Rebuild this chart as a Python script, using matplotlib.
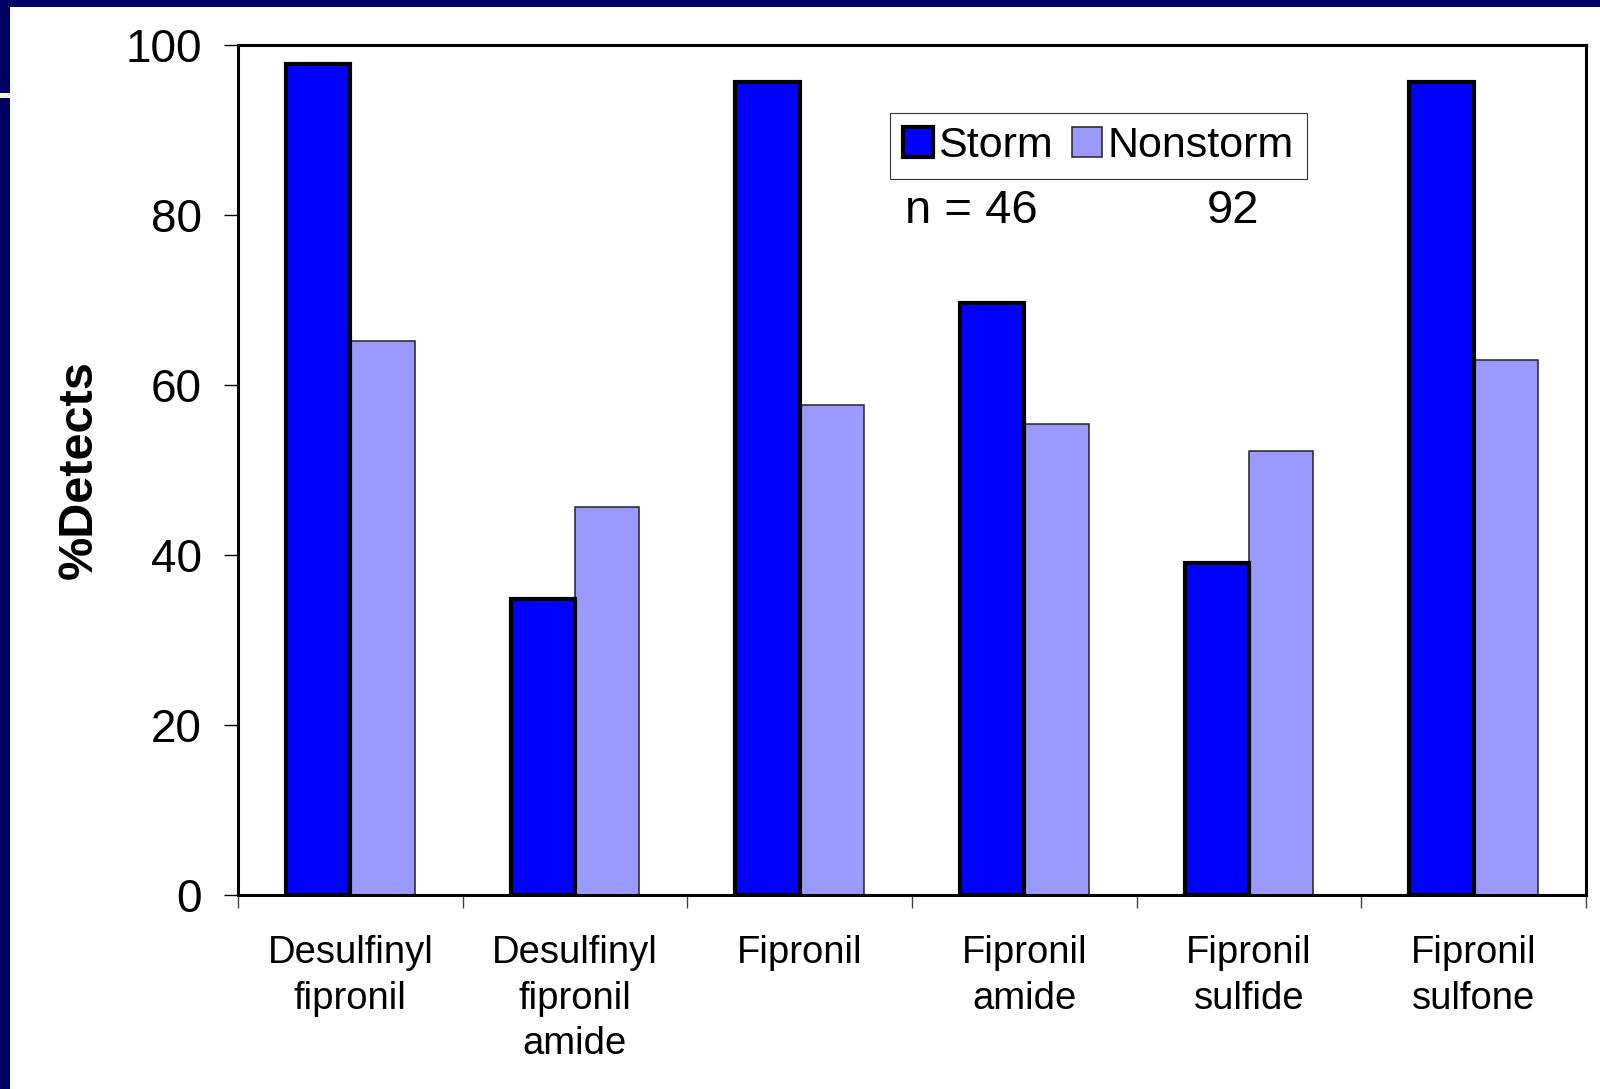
import matplotlib
matplotlib.use('Agg')
import matplotlib.pyplot as plt
from matplotlib.patches import Rectangle
import numpy as np

plt.rcParams['font.family'] = ['Liberation Sans', 'DejaVu Sans']

categories = ['Desulfinyl\nfipronil', 'Desulfinyl\nfipronil\namide', 'Fipronil',
              'Fipronil\namide', 'Fipronil\nsulfide', 'Fipronil\nsulfone']
storm = [97.8, 34.8, 95.7, 69.6, 39.1, 95.7]
nonstorm = [65.2, 45.7, 57.6, 55.4, 52.2, 63.0]
n_storm = 46
n_nonstorm = 92

W, H = 1600, 1089
fig = plt.figure(figsize=(16, 10.89), dpi=100)
fig.patch.set_facecolor('white')

# navy slide frame
navy = '#000066'
fig.patches.append(Rectangle((0, 1 - 7 / H), 1, 7 / H, transform=fig.transFigure,
                             facecolor=navy, edgecolor='none', zorder=0))
fig.patches.append(Rectangle((0, 0), 10 / W, 1, transform=fig.transFigure,
                             facecolor=navy, edgecolor='none', zorder=0))
fig.patches.append(Rectangle((0, 1 - 98 / H), 10 / W, 5 / H, transform=fig.transFigure,
                             facecolor='#f5f5d0', edgecolor='none', zorder=1))

ax = fig.add_axes([238 / W, 1 - 895 / H, (1586 - 238) / W, (895 - 45) / H])

x = np.arange(len(categories))
w = 1 / 3.5
ax.bar(x - w / 2, storm, w, color='#0000ff', edgecolor='black', linewidth=3,
       label='Storm', zorder=3)
ax.bar(x + w / 2, nonstorm, w, color='#9999ff', edgecolor='#222222', linewidth=1.1,
       label='Nonstorm', zorder=2)

ax.set_xlim(-0.5, len(categories) - 0.5)
ax.set_ylim(0, 100)
ax.set_yticks(np.arange(0, 101, 20))
ax.tick_params(axis='y', labelsize=33, length=10, width=1, pad=16, direction='out')
ax.set_xticks(x)
ax.set_xticklabels(categories, fontsize=27.5, linespacing=1.33)
ax.tick_params(axis='x', length=0, pad=29)
ax.set_xticks(np.arange(-0.5, len(categories), 1), minor=True)
ax.tick_params(axis='x', which='minor', length=9, width=1, color='#444444', direction='out')
for s in ax.spines.values():
    s.set_linewidth(2.2)
    s.set_color('black')

ax.set_ylabel('%Detects', fontsize=35, fontweight='bold', labelpad=17)

leg = ax.legend(loc='upper left', bbox_to_anchor=(890 / W, 1 - 113 / H),
                bbox_transform=fig.transFigure, ncol=2, fontsize=31,
                frameon=True, fancybox=False, borderaxespad=0, handlelength=0.7,
                handleheight=0.7, handletextpad=0.12, columnspacing=0.45,
                borderpad=0.3)
leg.get_frame().set_edgecolor('black')
leg.get_frame().set_linewidth(0.8)

fig.text(905 / W, 1 - 223 / H, 'n = %d' % n_storm, fontsize=34, va='baseline')
fig.text(1207 / W, 1 - 223 / H, '%d' % n_nonstorm, fontsize=34, va='baseline')

fig.savefig('out.png', dpi=100)
